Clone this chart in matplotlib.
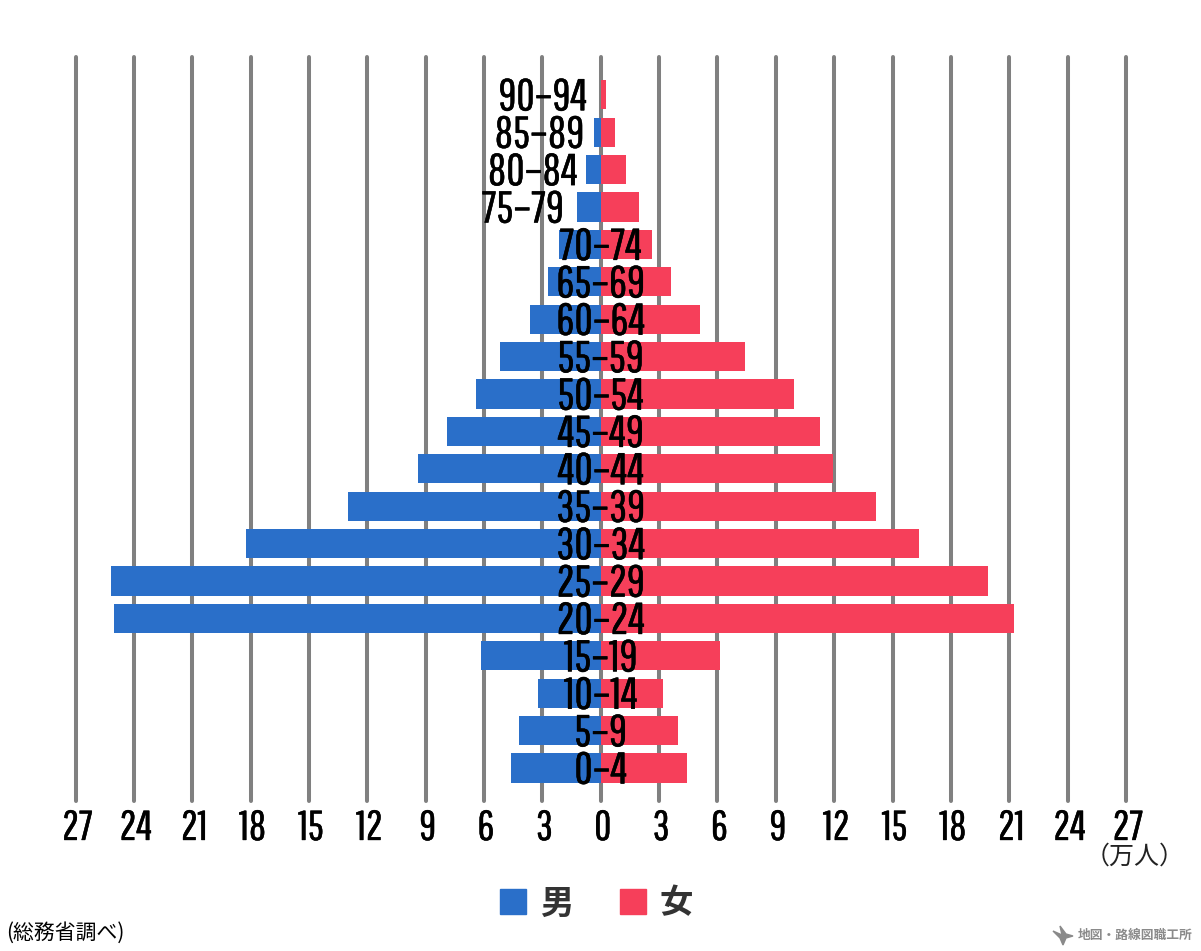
import matplotlib
matplotlib.use('Agg')
import matplotlib.pyplot as plt
import matplotlib.patheffects as pe
from matplotlib.patches import Patch, Polygon

age_groups = ['0-4', '5-9', '10-14', '15-19', '20-24', '25-29', '30-34', '35-39', '40-44', '45-49',
              '50-54', '55-59', '60-64', '65-69', '70-74', '75-79', '80-84', '85-89', '90-94']
male = [4.6, 4.2, 3.25, 6.15, 25.0, 25.2, 18.25, 13.0, 9.4, 7.9,
        6.4, 5.2, 3.65, 2.72, 2.15, 1.23, 0.77, 0.36, 0.0]
female = [4.45, 3.95, 3.2, 6.12, 21.25, 19.9, 16.35, 14.15, 11.95, 11.25,
          9.95, 7.4, 5.1, 3.6, 2.62, 1.95, 1.28, 0.72, 0.27]
ticks = [-27, -24, -21, -18, -15, -12, -9, -6, -3, 0, 3, 6, 9, 12, 15, 18, 21, 24, 27]

BLUE = '#2A6FC9'
RED = '#F63F5A'
GRID = '#808080'
W, H = 1201, 951
JP = ['Noto Sans CJK JP', 'DejaVu Sans']
NARROW = ['Pathway Gothic One', 'Liberation Sans', 'DejaVu Sans']

# label centres for the old-age rows, shifted off the bars
label_x = {'90-94': -2.98, '85-89': -3.15, '80-84': -3.5, '75-79': -4.0}

fig = plt.figure(figsize=(W / 100, H / 100), dpi=100)
ax = fig.add_axes([75.5 / W, 1 - 801 / H, (1126 - 75.5) / W, (801 - 57) / H])

y = list(range(len(age_groups)))
ax.barh(y, [-v for v in male], height=0.78, color=BLUE, zorder=2)
ax.barh(y, female, height=0.78, color=RED, zorder=2)

ax.set_xlim(-27, 27)
ax.set_ylim(-0.88, 19.01)
ax.set_yticks([])
ax.set_xticks(ticks)
ax.set_xticklabels([])
ax.tick_params(length=0)
for s in ax.spines.values():
    s.set_visible(False)
ax.grid(axis='x', color=GRID, linewidth=2.9, zorder=1)
for line in ax.get_xgridlines():
    line.set_solid_capstyle('round')
    line.set_clip_on(False)

# the font is a bit thin, a small stroke brings it closer
bold = [pe.withStroke(linewidth=0.35, foreground='black')]
for t in ticks:
    ax.text(t + 0.1, -1.6, str(abs(t)), family=NARROW, fontsize=30, ha='center', va='center',
            color='black', path_effects=bold)
for i, lab in enumerate(age_groups):
    ax.text(label_x.get(lab, 0), i - 0.08, lab.replace('-', '\u2013'), family=NARROW, fontsize=32,
            ha='center', va='center', color='black', zorder=3, path_effects=bold)

fig.legend(handles=[Patch(color=BLUE, label='男'), Patch(color=RED, label='女')],
           loc='center', bbox_to_anchor=(596.5 / W, 1 - 904 / H), ncol=2, frameon=False,
           prop={'family': JP, 'size': 24, 'weight': 'bold'}, labelcolor='#333333',
           handlelength=0.78, handleheight=0.78, handletextpad=0.4, columnspacing=1.4,
           borderpad=0, borderaxespad=0)

fig.text(1185 / W, 1 - 857 / H, '（万人）', family=JP, fontsize=18, ha='right', va='center', color='#222222')
fig.text(6 / W, 1 - 933 / H, '(総務省調べ)', family=JP, fontsize=15, ha='left', va='center', color='black')
fig.text(1193 / W, 1 - 936 / H, '地図・路線図職工所', family=JP, fontsize=9.2, fontweight='bold',
         ha='right', va='center', color='#8a8a8a')

# little logo next to the credit
logo = [(1053, 931), (1062, 935), (1060, 926), (1066, 934), (1073, 936), (1066, 938), (1063, 945), (1060, 938)]
fig.add_artist(Polygon([(px / W, 1 - py / H) for px, py in logo], closed=True, color='#8a8a8a',
                       transform=fig.transFigure))

fig.savefig('out.png', dpi=100)
